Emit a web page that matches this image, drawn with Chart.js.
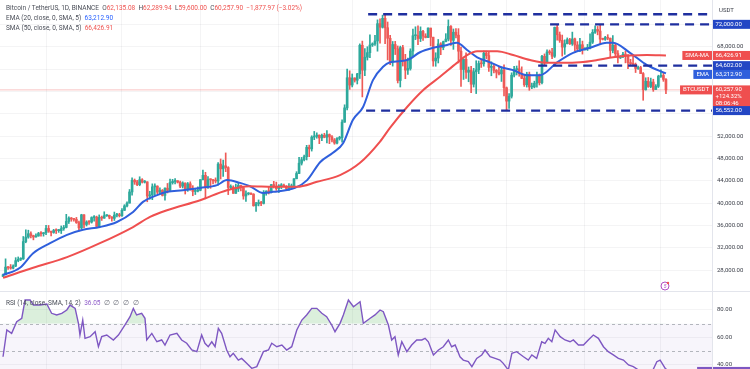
<!DOCTYPE html>
<html>
<head>
<meta charset="utf-8">
<script src="https://cdn.jsdelivr.net/npm/chart.js@4.4.1/dist/chart.umd.min.js"></script>
<style>
  html, body { margin: 0; padding: 0; background: #fff; overflow: hidden; }
  #wrap { position: relative; width: 750px; height: 369px; font-family: Roboto, "Noto Sans", sans-serif; }
  canvas { position: absolute; left: 0; }
  #price { top: 0; }
  #rsi { top: 292px; }
  .legend { position: absolute; left: 6px; font-size: 6.5px; line-height: 10px; color: #4a4e58; white-space: nowrap; }
  .red { color: #ef5350; }
  .blue { color: #2962ff; }
  .purple { color: #8e5cc9; }
  .na { color: #6a6d78; letter-spacing: 1px; }
</style>
</head>
<body>
<div id="wrap">
  <canvas id="price" width="750" height="292"></canvas>
  <canvas id="rsi" width="750" height="77"></canvas>
  <div class="legend" style="top:3px">Bitcoin / TetherUS, 1D, BINANCE&nbsp; O<span class="red">62,135.08</span>&nbsp; H<span class="red">62,289.94</span>&nbsp; L<span class="red">59,600.00</span>&nbsp; C<span class="red">60,257.90&nbsp; −1,877.97 (−3.02%)</span></div>
  <div class="legend" style="top:13px">EMA (20, close, 0, SMA, 5)&nbsp; <span class="blue">63,212.90</span></div>
  <div class="legend" style="top:23px">SMA (50, close, 0, SMA, 5)&nbsp; <span class="red">66,426.91</span></div>
  <div class="legend" style="top:298px">RSI (14, close, SMA, 14, 2)&nbsp; <span class="purple">36.05</span>&nbsp; <span class="na">∅ ∅ ∅ ∅</span></div>
</div>
<script>
// daily candles, 15 Oct 2023 -> 3 Jul 2024, prices in thousands USDT
const firstDay = "2023-10-15";
const opens = [26.86,27.15,28.52,28.42,28.33,28.72,29.68,29.92,29.99,33.09, 33.90,34.50,34.16,33.91,34.09,34.54,34.50,34.67,35.44,34.94,
  34.73,35.08,35.05,35.05,35.42,35.63,36.70,37.31,37.13,37.06, 36.49,35.55,37.88,36.16,36.60,36.58,37.39,37.47,35.81,37.42,
  37.29,37.72,37.80,37.48,37.25,37.83,37.85,37.72,38.69,39.48, 39.98,41.98,44.08,43.77,43.29,44.17,43.73,43.79,41.24,41.45,
  42.89,43.02,41.94,42.28,41.37,42.66,42.26,43.65,43.86,43.99, 43.72,43.02,43.58,42.52,43.44,42.58,42.07,42.14,42.28,44.18,
  44.96,42.85,44.18,44.16,43.97,43.93,46.97,46.12,46.66,46.34, 42.78,42.84,41.73,42.51,43.15,42.74,41.26,41.62,41.66,41.58,
  39.51,39.85,40.08,39.93,41.82,42.12,42.03,43.30,42.94,42.58, 43.08,43.19,42.99,42.58,42.66,43.08,44.34,45.29,47.13,47.75,
  48.29,49.96,49.70,51.80,51.94,52.16,51.66,52.12,51.78,52.26, 51.85,51.30,50.73,51.57,51.73,54.48,57.04,62.43,61.13,62.39,
  61.99,63.13,68.25,63.80,66.11,66.93,68.30,68.50,69.02,72.12, 71.48,73.08,71.39,69.50,65.30,68.39,67.61,61.94,67.84,65.50,
  63.80,64.09,67.21,69.96,69.99,69.46,70.74,69.89,69.64,71.33, 69.70,65.45,65.96,68.49,67.84,68.90,69.36,71.62,69.14,70.59,
  70.06,67.19,63.92,65.74,63.42,63.79,61.28,63.51,63.84,64.99, 64.93,66.84,66.41,64.28,64.48,63.76,63.42,63.12,63.84,60.64,
  58.25,59.12,62.89,63.89,64.03,63.16,62.33,61.18,63.07,60.79, 60.79,61.45,62.90,61.55,66.27,65.23,67.05,66.94,66.28,71.45,
  70.14,69.12,67.93,68.53,69.26,68.50,69.39,68.30,67.58,68.35, 67.49,67.71,67.75,68.80,70.57,71.08,70.79,69.34,69.31,69.65,
  69.51,67.32,68.24,66.76,66.01,66.19,66.64,66.49,65.15,64.96, 64.83,64.10,64.25,63.18,60.28,61.80,60.86,61.67,60.32,60.89,
  62.68,62.85,62.135];
const highs = [27.29,30.00,28.61,28.98,28.92,30.21,30.34,30.20,34.00,35.20, 35.13,34.82,34.24,34.47,34.75,34.86,34.72,35.98,35.98,34.95,
  35.28,35.38,35.28,35.89,35.98,37.97,37.53,37.41,37.22,37.42, 36.75,37.98,37.93,36.82,36.85,37.53,37.76,37.65,37.87,37.66,
  38.43,37.91,37.84,37.56,38.38,38.15,38.16,38.98,39.70,40.22, 42.42,44.49,44.30,44.05,44.70,44.36,44.04,43.81,42.10,43.43,
  43.42,43.09,42.70,42.42,42.74,43.50,44.28,44.24,44.37,44.00, 43.94,43.80,43.60,43.68,43.80,43.11,42.60,42.90,44.18,45.88,
  45.50,44.73,44.34,44.23,44.50,47.25,47.89,47.70,48.97,46.50, 43.25,43.08,43.40,43.58,43.20,42.93,42.20,41.87,41.84,41.68,
  40.13,40.55,40.29,42.23,42.20,42.84,43.31,43.88,43.74,43.29, 43.48,43.38,43.12,43.49,43.40,44.37,45.61,48.20,48.17,48.59,
  50.33,50.37,52.04,52.82,52.57,52.20,52.36,52.49,52.98,52.37, 52.07,51.55,51.70,51.95,54.91,57.59,64.00,63.68,63.11,62.43,
  63.23,68.50,69.00,67.64,67.99,70.14,68.69,70.01,72.80,73.00, 73.65,73.78,72.42,70.04,68.93,68.95,68.13,68.10,68.24,66.63,
  65.97,67.62,71.15,71.56,71.73,71.55,70.91,70.32,71.37,71.33, 69.70,66.91,69.29,68.72,69.00,70.33,72.80,71.76,71.17,71.26,
  71.23,67.93,65.84,66.88,64.36,64.48,64.12,65.48,65.44,65.72, 67.23,67.21,67.08,65.29,64.80,63.91,64.36,64.23,64.73,60.78,
  59.60,63.32,64.50,64.54,65.49,64.39,62.98,63.42,63.45,61.49, 61.82,63.45,63.10,66.45,66.70,67.45,67.40,67.70,71.52,71.98,
  70.63,70.08,69.22,69.57,69.50,70.61,69.56,68.91,69.50,69.00, 67.86,68.41,70.28,71.06,71.74,71.63,71.99,69.53,69.85,70.15,
  69.56,69.99,68.45,67.31,66.40,66.98,67.20,66.57,65.73,66.48, 65.07,64.52,64.49,63.37,62.43,62.48,62.37,62.17,61.20,62.89,
  63.86,63.29,62.29];
const lows = [26.81,27.11,28.11,28.14,28.18,28.60,29.47,29.68,29.89,32.88, 33.69,33.75,33.40,33.86,34.05,34.08,34.06,34.32,34.74,34.10,
  34.58,34.53,34.74,34.53,35.11,35.54,36.33,36.73,36.76,36.35, 34.98,35.36,35.56,35.88,36.17,36.40,36.75,35.73,35.63,36.88,
  37.25,37.60,37.17,36.75,36.87,37.52,37.50,37.61,38.65,39.28, 39.98,41.42,43.34,43.09,43.09,43.58,43.58,40.22,40.68,40.60,
  41.42,41.67,41.69,41.25,40.53,41.80,42.20,43.38,43.40,43.58, 42.75,42.70,41.61,42.09,42.30,41.30,41.52,41.97,42.18,44.15,
  40.75,42.62,42.63,43.40,43.58,43.18,44.30,44.75,45.61,41.50, 42.44,41.72,41.72,42.05,42.18,40.68,40.28,41.45,41.50,39.43,
  38.50,39.48,39.54,39.82,41.39,41.62,41.81,42.68,42.27,41.88, 42.57,42.88,42.22,42.26,42.57,42.79,44.33,45.25,46.80,47.56,
  47.71,48.30,49.30,51.34,51.60,50.63,51.16,51.68,50.76,50.63, 50.93,50.52,50.59,51.28,50.90,54.45,56.69,60.36,60.79,61.66,
  61.32,62.30,59.00,62.82,65.60,66.01,68.04,68.23,67.19,68.62, 71.33,68.56,65.63,64.78,64.52,66.59,61.50,60.78,64.53,62.26,
  63.04,63.80,66.38,69.26,68.38,68.91,69.10,69.57,69.62,68.15, 64.50,64.49,65.08,66.56,67.45,68.85,69.04,68.21,67.52,69.57,
  65.09,60.90,62.13,62.30,61.72,59.77,60.77,59.60,63.17,64.28, 64.50,65.86,63.59,62.79,63.31,62.40,62.95,61.77,59.19,56.55,
  56.94,58.80,62.57,62.93,62.70,62.26,60.88,60.76,60.19,60.49, 60.62,60.75,61.14,61.31,64.60,65.10,66.60,65.86,66.06,69.16,
  68.77,66.31,66.62,68.49,68.39,68.23,67.29,67.12,67.12,66.67, 67.39,67.31,67.61,68.56,70.38,70.12,68.49,69.20,69.13,69.23,
  66.05,66.90,66.30,65.08,65.87,66.03,65.10,64.06,64.69,64.55, 63.37,63.93,63.18,58.40,60.22,60.71,60.64,60.00,60.32,60.68,
  62.51,61.79,59.60];
const closes = [27.15,28.52,28.42,28.33,28.72,29.68,29.92,29.99,33.09,33.90, 34.50,34.16,33.91,34.09,34.54,34.50,34.67,35.44,34.94,34.73,
  35.08,35.05,35.05,35.42,35.63,36.70,37.31,37.13,37.06,36.49, 35.55,37.88,36.16,36.60,36.58,37.39,37.47,35.81,37.42,37.29,
  37.72,37.80,37.48,37.25,37.83,37.85,37.72,38.69,39.48,39.98, 41.98,44.08,43.77,43.29,44.17,43.73,43.79,41.24,41.45,42.89,
  43.02,41.94,42.28,41.37,42.66,42.26,43.65,43.86,43.99,43.72, 43.02,43.58,42.52,43.44,42.58,42.07,42.14,42.28,44.18,44.96,
  42.85,44.18,44.16,43.97,43.93,46.97,46.12,46.66,46.34,42.78, 42.84,41.73,42.51,43.15,42.74,41.26,41.62,41.66,41.58,39.51,
  39.85,40.08,39.93,41.82,42.12,42.03,43.30,42.94,42.58,43.08, 43.19,42.99,42.58,42.66,43.08,44.34,45.29,47.13,47.75,48.29,
  49.96,49.70,51.80,51.94,52.16,51.66,52.12,51.78,52.26,51.85, 51.30,50.73,51.57,51.73,54.48,57.04,62.43,61.13,62.39,61.99,
  63.13,68.25,63.80,66.11,66.93,68.30,68.50,69.02,72.12,71.48, 73.08,71.39,69.50,65.30,68.39,67.61,61.94,67.84,65.50,63.80,
  64.09,67.21,69.96,69.99,69.46,70.74,69.89,69.64,71.33,69.70, 65.45,65.96,68.49,67.84,68.90,69.36,71.62,69.14,70.59,70.06,
  67.19,63.92,65.74,63.42,63.79,61.28,63.51,63.84,64.99,64.93, 66.84,66.41,64.28,64.48,63.76,63.42,63.12,63.84,60.64,58.25,
  59.12,62.89,63.89,64.03,63.16,62.33,61.18,63.07,60.79,60.79, 61.45,62.90,61.55,66.27,65.23,67.05,66.94,66.28,71.45,70.14,
  69.12,67.93,68.53,69.26,68.50,69.39,68.30,67.58,68.35,67.49, 67.71,67.75,68.80,70.57,71.08,70.79,69.34,69.31,69.65,69.51,
  67.32,68.24,66.76,66.01,66.19,66.64,66.49,65.15,64.96,64.83, 64.10,64.25,63.18,60.28,61.80,60.86,61.67,60.32,60.89,62.68,
  62.85,62.135,60.2579];

// indicator lines (day index, value)
const emaAt = [0,6.7,11.9,18.6,25.3,31.6,38.3,45,51.4,55.3,60.9,64.8,71.1,77.9,84.6,88.5,93.7,97.6,102.8,106.7,115.4,120.2,125.3,130.4,134.4,138.3,142.3,146.2,150.2,153,159.7,164.8,170,175.5,179.4,183.4,187.4,192.5,196.4,201.6,207.1,212.3,219,225.3,232,238.7,241.1,247.8,254.5,262];
const emaValues = [27.1,28.4,31.0,32.8,34.3,35.2,35.7,36.6,38.4,40.2,41.4,42.0,42.3,42.7,43.2,44.1,43.6,43.0,41.8,42.0,42.7,44.1,47.3,49.0,50.7,54.9,57.2,62.0,64.4,65.2,65.6,67.0,67.8,68.3,68.7,67.4,66.1,65.2,64.4,63.8,62.9,62.9,65.2,66.9,67.8,68.7,68.7,66.9,64.7,63.2129];
const smaAt = [0,11.9,25.3,38.3,51.4,58.1,64.8,77.9,88.5,97.6,106.7,116.2,124.1,133.2,141.1,149,153,159.7,166,172.7,179.4,183.4,187.4,195.3,201.6,208.3,215,221.3,228,234.8,241.1,247.8,254.5,262];
const smaValues = [26.6,28.4,30.3,32.8,35.7,37.5,38.7,40.5,42.3,43.0,42.9,42.9,43.8,45.0,47.2,51.0,53.5,57.2,60.2,62.6,65.1,66.5,67.2,67.2,66.5,65.6,65.1,65.1,65.2,65.6,66.1,66.4,66.5,66.42691];
const rsiAt = [0,1.5,3.4,5.4,7.4,8.7,10.7,12,14.6,17.3,19.2,21.2,23.2,25.2,26.5,28.5,29.8,30.4,31.5,32.4,34.4,36.4,37.7,39,41,43.6,45.6,48.2,50.2,51.5,52.8,54.8,56.1,56.8,58.8,60.8,62.7,64,66,68.7,70.6,72.6,74.6,76.6,78.5,79.8,81.1,82.5,83.8,85.1,86.4,88.4,89.7,91,93,94.3,96.3,98.3,100.3,102.9,104.9,106.2,108.2,110.2,112.1,114.1,116.1,118.1,120,122,124,126,127.9,129.9,131.2,133.2,134.5,136.5,138.5,141.1,142.4,145.1,147,149,150.3,152.3,153.6,154.9,156.2,157.6,159.6,161.5,163.5,165.5,166.8,168.1,170.1,172.1,174,176,177.3,178.7,180.6,181.9,183.9,185.3,187.2,189.2,190.5,192.5,194.5,196.4,197.7,199.7,201.1,203,205.7,207.6,209,210.9,212.9,214.2,215.5,216.9,218.2,220.2,222.1,224.1,225.4,227.4,229.4,231.3,233.3,235.3,237.3,239.2,241.2,243.2,245.2,247.2,249.1,251.1,253,256,258.4,259.7,261.7,262];
const rsiValues = [46,65.5,63,71.5,74,87.3,87.3,83.6,83.6,84.4,77.6,76.4,77.6,80,83.6,81.2,70.3,61.8,72.7,59.4,60.6,64.2,53.3,60.6,61.8,58.2,61.8,69.1,75.1,81.2,76.4,77.6,74,58.2,63,56.9,58.2,54.5,61.8,63,58.2,55.8,50.9,49.7,61.8,55.8,53.3,56.9,53.3,66.7,63,50.9,46,48.5,43.6,44.8,41.2,37.6,38.8,49.7,50.9,55.8,53.3,54.5,50.9,53.3,65.5,72.7,76.4,81.2,81.2,77.6,75.1,69.1,64.2,70.3,76.4,87.3,82.4,86,70.3,74,76.4,80,78.8,69.1,58.2,60.6,47.3,56.9,49.7,54.5,58.2,58.2,59.4,56.9,47.3,50.9,53.3,58.2,53.3,54.5,46,43.6,42.4,38.8,44.8,47.3,50.9,46,44.8,43.6,41.2,36.4,48.5,49.7,46,43.6,47.3,44.8,56.9,55.8,59.4,56.9,65.5,60.6,58.2,56.9,58.2,54.5,54.5,58.2,61.8,59.4,53.3,49.7,47.3,44.8,43.6,40,38.8,36.4,31,33,42.4,43.6,37.6,36.05];

// horizontal levels drawn on the chart
const levelValues = [73.8, 72.0, 64.602, 56.552];
const levelStarts = [144.3, 216.2, 211.5, 143.5];
const priceTicks = [28, 32, 36, 40, 44, 48, 52, 56, 60, 64, 68, 72];
const coveredTicks = [56, 60, 64, 72];
const rsiTicks = [40, 60, 80];
const monthStarts = [17, 47, 78, 109, 138, 169, 199, 230, 260];

const UP = "#2ea99c", DOWN = "#ee5a57", EMA_BLUE = "#2f5fdc", SMA_RED = "#ef4f4f";
const LEVEL = "#1f2f9f", TAG_BLUE = "#2346c4", GRID = "rgba(42,46,57,0.05)";
const X_MIN = -1.2, X_MAX = 280.2;
const lastClose = closes[closes.length - 1];

Chart.defaults.font.family = "Roboto, 'Noto Sans', sans-serif";

const fmt = v => (v * 1000).toLocaleString("en-US", { minimumFractionDigits: 2, maximumFractionDigits: 2 });
const pts = (at, vals) => at.map((x, i) => ({ x, y: vals[i] }));
const candleColor = ctx => closes[ctx.dataIndex] >= opens[ctx.dataIndex] ? UP : DOWN;

const xAxis = {
  type: "linear", min: X_MIN, max: X_MAX, offset: false,
  afterBuildTicks: s => { s.ticks = monthStarts.map(v => ({ value: v })); },
  afterFit: s => { s.height = 0; s.paddingLeft = 0; s.paddingRight = 0; },
  grid: { color: GRID, drawTicks: false, tickLength: 0, offset: false },
  border: { display: false },
  ticks: { display: false }
};

function rightAxis(min, max, ticks, hide) {
  return {
    position: "right", min, max, beginAtZero: false,
    afterBuildTicks: s => { s.ticks = ticks.map(v => ({ value: v })); },
    afterFit: s => { s.width = 38; s.paddingTop = 0; s.paddingBottom = 0; },
    grid: { color: GRID, drawTicks: false, tickLength: 0 },
    border: { display: false },
    ticks: {
      padding: 5, color: "#3a3e48", font: { size: 6 },
      callback: v => hide.includes(v) ? "" : (hide === coveredTicks ? fmt(v) : v.toFixed(2))
    }
  };
}

function drawTag(ctx, y, lines, color, name, nameColor) {
  const h = 9, lh = 6.6, top = y - h / 2;
  ctx.font = "6px Roboto, 'Noto Sans', sans-serif";
  ctx.textBaseline = "middle";
  ctx.textAlign = "left";
  ctx.fillStyle = color;
  ctx.fillRect(713, top, 37, h + (lines.length - 1) * lh);
  ctx.fillStyle = "#fff";
  lines.forEach((t, i) => ctx.fillText(t, 715.5, y + i * lh));
  if (name) {
    const w = ctx.measureText(name).width + 6;
    ctx.fillStyle = nameColor || color;
    ctx.fillRect(712 - w, top, w, h);
    ctx.fillStyle = "#fff";
    ctx.fillText(name, 712 - w + 3, y);
  }
}

const priceOverlay = {
  id: "priceOverlay",
  afterDraw(chart) {
    const { ctx, chartArea, scales: { y } } = chart;
    ctx.save();
    ctx.strokeStyle = "#e3e5ec";
    ctx.lineWidth = 1;
    ctx.beginPath();
    ctx.moveTo(chartArea.right + 0.5, 0);
    ctx.lineTo(chartArea.right + 0.5, chart.height);
    ctx.moveTo(0, chart.height - 0.5);
    ctx.lineTo(750, chart.height - 0.5);
    ctx.stroke();
    ctx.fillStyle = "#3a3e48";
    ctx.font = "6px Roboto, 'Noto Sans', sans-serif";
    ctx.textBaseline = "middle";
    ctx.fillText("USDT", 719, 10);
    const emaLast = emaValues[emaValues.length - 1], smaLast = smaValues[smaValues.length - 1];
    drawTag(ctx, y.getPixelForValue(levelValues[1]), [fmt(levelValues[1])], TAG_BLUE);
    drawTag(ctx, y.getPixelForValue(smaLast), [fmt(smaLast)], SMA_RED, "SMA-MA");
    drawTag(ctx, y.getPixelForValue(levelValues[2]), [fmt(levelValues[2])], TAG_BLUE);
    drawTag(ctx, y.getPixelForValue(emaLast) + 1, [fmt(emaLast)], EMA_BLUE, "EMA");
    drawTag(ctx, y.getPixelForValue(lastClose), [fmt(lastClose), "+124.32%", "08:06:46"], SMA_RED, "BTCUSDT");
    drawTag(ctx, y.getPixelForValue(levelValues[3]), [fmt(levelValues[3])], TAG_BLUE);
    // event marker
    ctx.strokeStyle = "#b04fc4";
    ctx.lineWidth = 1;
    ctx.beginPath();
    ctx.arc(665, 286, 4, 0, Math.PI * 2);
    ctx.stroke();
    ctx.fillStyle = "#b04fc4";
    ctx.textAlign = "center";
    ctx.font = "italic 5px Roboto, sans-serif";
    ctx.fillText("5", 665, 286.5);
    ctx.fillStyle = "#f05454";
    ctx.beginPath();
    ctx.arc(668, 283, 1.2, 0, Math.PI * 2);
    ctx.fill();
    ctx.restore();
  }
};

const levelSets = levelValues.map((v, i) => ({
  type: "line",
  data: [{ x: levelStarts[i], y: v }, { x: X_MAX, y: v }],
  borderColor: LEVEL, borderWidth: 2.4, borderDash: [9, 6],
  pointRadius: 0, order: 1
}));

new Chart(document.getElementById("price"), {
  type: "bar",
  data: {
    datasets: [
      { type: "line", data: [{ x: X_MIN, y: lastClose }, { x: X_MAX, y: lastClose }],
        borderColor: "rgba(239,83,80,0.35)", borderWidth: 1, pointRadius: 0, order: 5 },
      { data: opens.map((o, i) => ({ x: i, y: [lows[i], highs[i]] })),
        backgroundColor: candleColor, barThickness: 1, grouped: false, order: 4 },
      { data: opens.map((o, i) => ({ x: i, y: [o, closes[i]] })),
        backgroundColor: candleColor, barThickness: 2, minBarLength: 1, grouped: false, order: 3 },
      { type: "line", data: pts(smaAt, smaValues), borderColor: SMA_RED, borderWidth: 2,
        pointRadius: 0, cubicInterpolationMode: "monotone", order: 2 },
      { type: "line", data: pts(emaAt, emaValues), borderColor: EMA_BLUE, borderWidth: 2,
        pointRadius: 0, cubicInterpolationMode: "monotone", order: 2 },
      ...levelSets
    ]
  },
  options: {
    responsive: false,
    animation: false,
    layout: { padding: 0 },
    plugins: { legend: { display: false }, tooltip: { enabled: false } },
    scales: { x: xAxis, y: rightAxis(24.06, 76.36, priceTicks, coveredTicks) }
  },
  plugins: [priceOverlay]
});

const rsiOverlay = {
  id: "rsiOverlay",
  beforeDatasetsDraw(chart) {
    const { ctx, chartArea: a, scales: { y } } = chart;
    ctx.save();
    ctx.fillStyle = "rgba(126,87,194,0.06)";
    ctx.fillRect(a.left, y.getPixelForValue(70), a.width, a.bottom - y.getPixelForValue(70));
    ctx.strokeStyle = "#a3a6ae";
    ctx.lineWidth = 0.8;
    ctx.setLineDash([3, 3]);
    [70, 50].forEach(v => {
      const py = Math.round(y.getPixelForValue(v)) + 0.5;
      ctx.beginPath();
      ctx.moveTo(a.left, py);
      ctx.lineTo(a.right, py);
      ctx.stroke();
    });
    ctx.restore();
  },
  afterDraw(chart) {
    const { ctx, chartArea, scales: { y } } = chart;
    ctx.save();
    ctx.strokeStyle = "#e3e5ec";
    ctx.lineWidth = 1;
    ctx.beginPath();
    ctx.moveTo(chartArea.right + 0.5, 0);
    ctx.lineTo(chartArea.right + 0.5, chart.height);
    ctx.stroke();
    drawTag(ctx, y.getPixelForValue(rsiValues[rsiValues.length - 1]) + 1, [rsiValues[rsiValues.length - 1].toFixed(2)], "#7e57c2", "RSI");
    ctx.restore();
  }
};

new Chart(document.getElementById("rsi"), {
  type: "line",
  data: {
    datasets: [{
      data: pts(rsiAt, rsiValues),
      borderColor: "#7e57c2", borderWidth: 1.4, pointRadius: 0, tension: 0,
      fill: { target: { value: 70 }, above: "rgba(76,175,80,0.2)", below: "rgba(0,0,0,0)" }
    }]
  },
  options: {
    responsive: false,
    animation: false,
    layout: { padding: 0 },
    plugins: { legend: { display: false }, tooltip: { enabled: false } },
    scales: { x: xAxis, y: rightAxis(37.09, 93.09, rsiTicks, []) }
  },
  plugins: [rsiOverlay]
});
</script>
</body>
</html>
